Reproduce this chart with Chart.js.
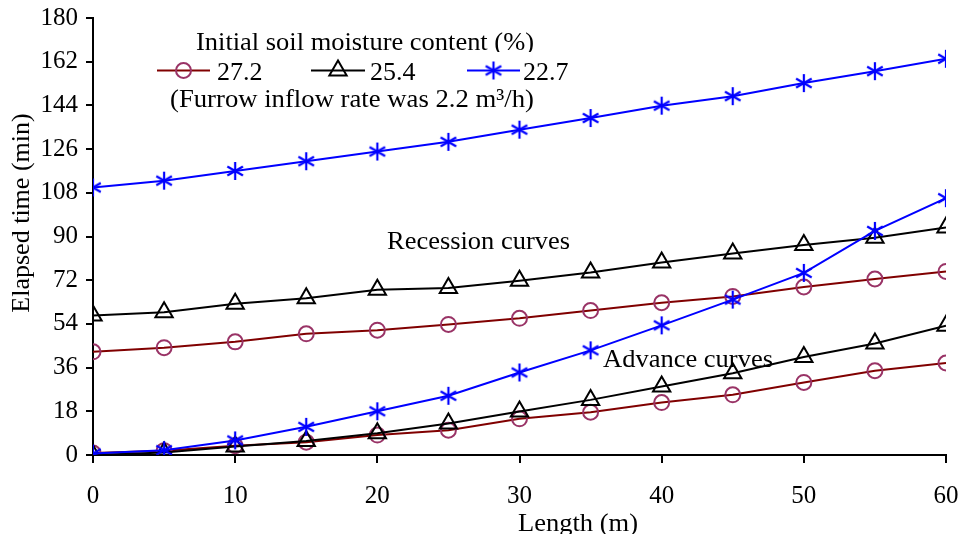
<!DOCTYPE html>
<html><head><meta charset="utf-8">
<script src="https://cdn.jsdelivr.net/npm/chart.js@4.4.0/dist/chart.umd.min.js"></script>
<style>html,body{margin:0;padding:0;background:#fff;}#wrap{width:964px;height:534px;position:relative;}</style>
</head><body><div id="wrap"><canvas id="c" width="964" height="534"></canvas></div>
<script>
const lengths = [0, 5, 10, 15, 20, 25, 30, 35, 40, 45, 50, 55, 60];
const rec272 = [42.5, 44.2, 46.6, 49.9, 51.4, 53.8, 56.3, 59.5, 62.7, 65.3, 69.2, 72.5, 75.6];
const rec254 = [57.5, 58.8, 62.3, 64.6, 68.1, 68.8, 71.8, 75.2, 79.3, 83.0, 86.5, 89.5, 93.7];
const rec227 = [110.2, 113.0, 117.0, 121.0, 125.0, 129.0, 134.0, 138.8, 143.9, 147.8, 153.2, 158.1, 163.2];
const adv272 = [0.8, 1.8, 3.8, 5.3, 8.2, 10.2, 14.9, 17.6, 21.6, 24.8, 29.9, 34.7, 37.9];
const adv254 = [0, 1.0, 3.5, 5.8, 9.0, 13.0, 17.9, 22.7, 28.2, 33.7, 40.4, 45.9, 53.2];
const adv227 = [0.6, 2.0, 6.0, 11.6, 18.0, 24.4, 34.0, 43.1, 53.4, 64.0, 75.0, 92.3, 105.8];
const seriesLabels = ['27.2', '25.4', '22.7'];
const xTicks = [0, 10, 20, 30, 40, 50, 60];
const yTicks = [0, 18, 36, 54, 72, 90, 108, 126, 144, 162, 180];

const FONT = '"Liberation Serif", "Times New Roman", serif';
const RED_LINE = '#800000', RED_MARK = '#993366', BLACK = '#000000', BLUE = '#0000FF';

function makeStar(color) {
  const s = 22, c = document.createElement('canvas');
  c.width = s; c.height = s;
  const g = c.getContext('2d');
  g.strokeStyle = color; g.lineWidth = 2.2;
  const m = s / 2, r = 9, d = r * Math.sin(Math.PI / 3), e = r * Math.cos(Math.PI / 3);
  g.beginPath();
  g.moveTo(m, m - r); g.lineTo(m, m + r);
  g.moveTo(m - d, m - e); g.lineTo(m + d, m + e);
  g.moveTo(m - d, m + e); g.lineTo(m + d, m - e);
  g.stroke();
  return c;
}
const starImg = makeStar(BLUE);

function pts(arr) { return lengths.map((x, i) => ({x: x, y: arr[i]})); }

const styles = [
  {line: RED_LINE, mark: RED_MARK, style: 'circle', radius: 7.5, order: 2},
  {line: BLACK, mark: BLACK, style: 'triangle', radius: 10, order: 1},
  {line: BLUE, mark: BLUE, style: starImg, radius: 9, order: 0}
];
function ds(arr, k, tag) {
  const s = styles[k];
  return {
    label: seriesLabels[k] + ' ' + tag, data: pts(arr), order: s.order,
    borderColor: s.line, borderWidth: 2, tension: 0,
    pointStyle: s.style, pointRadius: s.radius, pointHoverRadius: s.radius,
    pointBorderColor: s.mark, pointBackgroundColor: 'rgba(0,0,0,0)', pointBorderWidth: 2,
    fill: false
  };
}

function fitText(ctx, text, x, y, width) {
  const w = ctx.measureText(text).width;
  ctx.save();
  ctx.translate(x, y);
  ctx.scale(width / w, 1);
  ctx.textAlign = 'left';
  ctx.fillText(text, 0, 0);
  ctx.restore();
}

const textPlugin = {
  id: 'texts',
  afterDraw(chart) {
    const ctx = chart.ctx;
    ctx.save();
    ctx.fillStyle = '#000';
    ctx.font = '26px ' + FONT;
    ctx.textBaseline = 'alphabetic';
    ctx.save();
    ctx.beginPath(); ctx.rect(0, 0, 964, 52); ctx.clip();
    fitText(ctx, 'Initial soil moisture content (%)', 196, 50, 338);
    ctx.restore();
    const ly = 70.5;
    const entries = [
      {k: 0, x0: 157, x1: 210, tx: 217},
      {k: 1, x0: 311, x1: 365, tx: 370},
      {k: 2, x0: 467, x1: 520, tx: 523}
    ];
    entries.forEach(en => {
      const s = styles[en.k];
      ctx.strokeStyle = s.line; ctx.lineWidth = 2;
      ctx.beginPath(); ctx.moveTo(en.x0, ly); ctx.lineTo(en.x1, ly); ctx.stroke();
      const cx = (en.x0 + en.x1) / 2;
      ctx.strokeStyle = s.mark;
      if (en.k === 0) {
        ctx.beginPath(); ctx.arc(cx, ly, 7.5, 0, Math.PI * 2); ctx.stroke();
      } else if (en.k === 1) {
        const r = 10;
        ctx.beginPath();
        for (let i = 0; i < 3; i++) {
          const a = i * 2 * Math.PI / 3;
          const px = cx + Math.sin(a) * r, py = ly - Math.cos(a) * r;
          if (i === 0) ctx.moveTo(px, py); else ctx.lineTo(px, py);
        }
        ctx.closePath();
        ctx.stroke();
      } else {
        ctx.drawImage(starImg, cx - starImg.width / 2, ly - starImg.height / 2);
      }
      ctx.fillStyle = '#000';
      ctx.fillText(seriesLabels[en.k], en.tx, ly + 9);
    });
    fitText(ctx, '(Furrow inflow rate was 2.2 m\u00B3/h)', 170, 107, 364);
    fitText(ctx, 'Recession curves', 387, 249, 183);
    fitText(ctx, 'Advance curves', 603, 367, 170);
    fitText(ctx, 'Length (m)', 518, 531, 120);
    ctx.save();
    ctx.translate(29, 213);
    ctx.rotate(-Math.PI / 2);
    ctx.textAlign = 'center';
    ctx.fillText('Elapsed time (min)', 0, 0);
    ctx.restore();
    ctx.restore();
  }
};

new Chart(document.getElementById('c'), {
  type: 'line',
  data: {
    datasets: [
      ds(rec272, 0, 'recession'), ds(adv272, 0, 'advance'),
      ds(rec254, 1, 'recession'), ds(adv254, 1, 'advance'),
      ds(rec227, 2, 'recession'), ds(adv227, 2, 'advance')
    ]
  },
  options: {
    responsive: false, animation: false, devicePixelRatio: 1,
    layout: {padding: {left: 0, right: 18, top: 18, bottom: 0}},
    plugins: {legend: {display: false}, tooltip: {enabled: false}, title: {display: false}},
    scales: {
      x: {
        type: 'linear', min: 0, max: 60,
        afterBuildTicks: (sc) => { sc.ticks = xTicks.map(v => ({value: v})); },
        afterFit: (sc) => { sc.height = 79; sc.paddingLeft = 0; sc.paddingRight = 0; },
        grid: {drawOnChartArea: false, drawTicks: true, tickLength: 8, color: '#000', lineWidth: 2},
        border: {display: true, color: '#000', width: 2},
        ticks: {color: '#000', font: {family: FONT, size: 25}, padding: 18, maxRotation: 0}
      },
      y: {
        type: 'linear', min: 0, max: 180,
        afterBuildTicks: (sc) => { sc.ticks = yTicks.map(v => ({value: v})); },
        afterFit: (sc) => { sc.width = 93; sc.paddingTop = 0; sc.paddingBottom = 0; },
        grid: {drawOnChartArea: false, drawTicks: true, tickLength: 7, color: '#000', lineWidth: 2},
        border: {display: true, color: '#000', width: 2},
        ticks: {color: '#000', font: {family: FONT, size: 25}, padding: 8}
      }
    }
  },
  plugins: [textPlugin]
});
</script></body></html>
